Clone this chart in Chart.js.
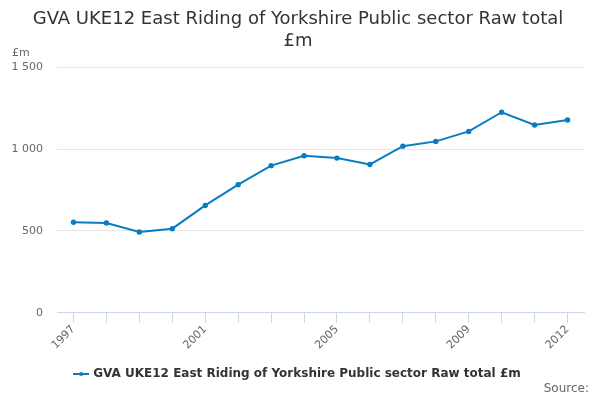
<!DOCTYPE html>
<html>
<head>
<meta charset="utf-8">
<script src="https://cdn.jsdelivr.net/npm/chart.js@4"></script>
<style>
  body { margin: 0; background: #fff; }
  #wrap { position: relative; width: 600px; height: 400px; }
  .note { position: absolute; font-family: "DejaVu Sans", sans-serif; color: #666; }
</style>
</head>
<body>
<div id="wrap">
  <canvas id="gvaChart" width="600" height="400"></canvas>
  <div class="note" style="left:12px; top:46px; font-size:11px;">£m</div>
  <div class="note" style="right:11px; top:381px; font-size:12px;">Source:</div>
</div>
<script>
const years = ["1997", "1998", "1999", "2000", "2001", "2002", "2003", "2004",
    "2005", "2006", "2007", "2008", "2009", "2010", "2011", "2012"];

const gvaValues = [553, 549, 494, 514, 656, 783, 899, 959,
    945, 906, 1018, 1047, 1108, 1225, 1147, 1178];

const shownYears = ["1997", "2001", "2005", "2009", "2012"];

const seriesName = "GVA UKE12 East Riding of Yorkshire Public sector Raw total £m";

const lineColor = "#0a7cc2";

Chart.defaults.font.family = "'DejaVu Sans', sans-serif";

// legend symbol: short line with a dot in the middle
const legendMark = document.createElement("canvas");
legendMark.width = 16;
legendMark.height = 6;
const lm = legendMark.getContext("2d");
lm.strokeStyle = lineColor;
lm.lineWidth = 2;
lm.beginPath();
lm.moveTo(0, 3);
lm.lineTo(16, 3);
lm.stroke();
lm.fillStyle = lineColor;
lm.beginPath();
lm.arc(8, 3, 2, 0, Math.PI * 2);
lm.fill();

new Chart(document.getElementById("gvaChart"), {

    type: "line",

    data: {
        labels: years,
        datasets: [
            {
                label: seriesName,
                data: gvaValues,
                borderColor: lineColor,
                backgroundColor: lineColor,
                borderWidth: 2,
                pointRadius: 1.7,
                pointHoverRadius: 3,
                pointStyle: "circle",
                tension: 0
            }
        ]
    },

    options: {
        responsive: false,
        animation: false,
        layout: {
            padding: { left: 12, right: 16, top: 0, bottom: 10 }
        },
        plugins: {
            title: {
                display: true,
                text: [
                    "GVA UKE12 East Riding of Yorkshire Public sector Raw total",
                    "£m"
                ],
                color: "#333",
                font: { size: 18, weight: "normal" },
                padding: { top: 9, bottom: 15 }
            },
            legend: {
                position: "bottom",
                labels: {
                    color: "#333",
                    font: { size: 12, weight: "bold" },
                    usePointStyle: true,
                    generateLabels: function (chart) {
                        const items = Chart.defaults.plugins.legend.labels.generateLabels(chart);
                        items.forEach(function (item) {
                            item.pointStyle = legendMark;
                        });
                        return items;
                    },
                    padding: 16
                }
            },
            tooltip: { enabled: false }
        },
        scales: {
            x: {
                offset: true,
                // rotated first label may hang left of the plot, no extra room
                afterFit: function (scale) {
                    scale.paddingLeft = 0;
                },
                grid: {
                    offset: false,
                    drawOnChartArea: false,
                    drawTicks: true,
                    tickLength: 10,
                    color: "#ccd6eb"
                },
                border: { color: "#ccd6eb" },
                ticks: {
                    autoSkip: false,
                    maxRotation: 45,
                    minRotation: 45,
                    color: "#666",
                    font: { size: 11 },
                    padding: 0,
                    callback: function (value) {
                        const year = years[value];
                        return shownYears.includes(year) ? year : "";
                    }
                }
            },
            y: {
                min: 0,
                max: 1500,
                afterFit: function (scale) {
                    scale.width = 45;
                },
                grid: { color: "#e6e6e6", drawTicks: false },
                border: { display: false },
                ticks: {
                    stepSize: 500,
                    color: "#666",
                    font: { size: 11 },
                    padding: 14,
                    callback: function (value) {
                        return value.toString().replace(/\B(?=(\d{3})+(?!\d))/g, " ");
                    }
                }
            }
        }
    }
});
</script>
</body>
</html>
